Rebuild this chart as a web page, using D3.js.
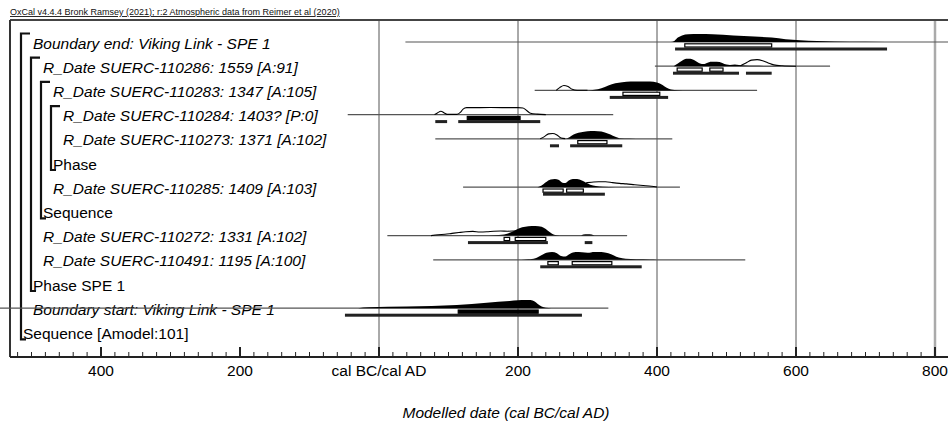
<!DOCTYPE html>
<html><head><meta charset="utf-8">
<script src="https://cdn.jsdelivr.net/npm/d3@7"></script>
<style>
html,body{margin:0;padding:0;background:#fff;}
svg{display:block;font-family:"Liberation Sans",Arial,sans-serif;}
</style></head>
<body><svg id="c" width="948" height="421"></svg>
<script>
// ---------- data ----------
const title = "OxCal v4.4.4 Bronk Ramsey (2021); r:2 Atmospheric data from Reimer et al (2020)";
const axisTitle = "Modelled date (cal BC/cal AD)";
const labels = [
  "Boundary end: Viking Link - SPE 1",
  "R_Date SUERC-110286: 1559 [A:91]",
  "R_Date SUERC-110283: 1347 [A:105]",
  "R_Date SUERC-110284: 1403? [P:0]",
  "R_Date SUERC-110273: 1371 [A:102]",
  "Phase",
  "R_Date SUERC-110285: 1409 [A:103]",
  "Sequence",
  "R_Date SUERC-110272: 1331 [A:102]",
  "R_Date SUERC-110491: 1195 [A:100]",
  "Phase SPE 1",
  "Boundary start: Viking Link - SPE 1",
  "Sequence [Amodel:101]"
];
// nesting level of each row (items), closing rows use their group's level
const levels = [1,2,3,4,4,4,3,3,2,2,2,1,1];
const isClosing = [false,false,false,false,false,true,false,true,false,false,true,false,true];
// groups: [openRow, closeRow, level]
const groupOpen  = [0,1,2,3];
const groupClose = [12,10,7,5];
const groupLevel = [1,2,3,4];

const tickYears  = [-400,-200,0,200,400,600,800];
const tickLabels = ["400","200","cal BC/cal AD","200","400","600","800"];
const gridYears  = [0,200,400,600,800];

// thin range lines (years)
const spans = [[38,850],[397,649],[224,544],[-45,337],[81,422],null,[121,433],null,[12,357],[78,527],null,[-560,330],null];

// posterior (filled) distributions: [year, relative height]
const post0 = [[420,0],[425,0.1],[430,0.4],[436,0.6],[445,0.7],[460,0.73],[480,0.7],[510,0.6],[540,0.5],[565,0.4],[585,0.25],[606,0.15],[630,0.08],[655,0.05],[700,0.02],[760,0]];
const post1 = [[424,0],[430,0.25],[436,0.5],[442,0.68],[448,0.68],[455,0.5],[462,0.25],[467,0.2],[472,0.3],[478,0.4],[486,0.4],[494,0.3],[500,0.15],[505,0.12],[512,0.15],[518,0.1],[525,0.06],[540,0.04],[560,0.02],[580,0]];
const post2 = [[300,0],[310,0.05],[320,0.2],[330,0.45],[340,0.65],[350,0.75],[362,0.8],[375,0.82],[390,0.8],[400,0.72],[408,0.5],[414,0.25],[420,0.08],[430,0.02],[445,0]];
const post4 = [[268,0],[274,0.15],[280,0.4],[287,0.55],[295,0.65],[305,0.7],[315,0.68],[325,0.58],[333,0.4],[340,0.18],[346,0.06],[360,0.02],[380,0]];
const post6 = [[228,0],[234,0.15],[240,0.45],[247,0.7],[253,0.75],[259,0.65],[264,0.4],[268,0.38],[273,0.6],[279,0.75],[285,0.75],[292,0.6],[298,0.4],[304,0.22],[312,0.1],[322,0.04],[340,0]];
const post8 = [[150,0],[165,0.03],[180,0.1],[190,0.3],[198,0.55],[206,0.75],[215,0.85],[225,0.88],[234,0.8],[240,0.6],[246,0.3],[252,0.08],[260,0.02],[275,0],[290,0],[294,0.1],[300,0.13],[306,0.1],[310,0]];
const post9 = [[205,0],[215,0.05],[225,0.15],[233,0.4],[241,0.65],[249,0.72],[256,0.6],[262,0.35],[268,0.3],[275,0.55],[283,0.7],[292,0.68],[300,0.65],[310,0.72],[320,0.72],[330,0.6],[338,0.4],[345,0.2],[355,0.1],[370,0.05],[390,0.03],[400,0.01],[410,0]];
const post11 = [[-30,0],[-15,0.08],[40,0.15],[112,0.3],[155,0.5],[188,0.65],[200,0.72],[210,0.75],[218,0.74],[224,0.6],[228,0.4],[234,0.15],[240,0.05],[248,0]];
const posteriors = [post0,post1,post2,null,post4,null,post6,null,post8,post9,null,post11,null];

// prior (outline) distributions, visible parts
const prior1 = [[520,0.05],[528,0.3],[536,0.55],[544,0.6],[552,0.5],[560,0.3],[568,0.12],[580,0.04],[600,0]];
const prior2 = [[255,0],[260,0.25],[266,0.45],[272,0.35],[278,0.1],[285,0.02],[300,0.02]];
const prior3 = [[80,0],[84,0.15],[89,0.3],[94,0.15],[98,0.02],[112,0.02],[117,0.2],[121,0.5],[126,0.63],[160,0.64],[200,0.63],[207,0.6],[212,0.4],[218,0.12],[228,0.04],[240,0]];
const prior4 = [[232,0],[238,0.2],[244,0.45],[250,0.48],[256,0.35],[262,0.08],[268,0.02]];
const prior6 = [[298,0.4],[306,0.45],[316,0.5],[326,0.5],[336,0.42],[346,0.35],[356,0.3],[368,0.22],[380,0.15],[392,0.08],[400,0.02]];
const prior8 = [[75,0],[85,0.08],[95,0.12],[105,0.2],[115,0.28],[125,0.35],[135,0.38],[145,0.33],[155,0.35],[165,0.4],[175,0.42],[185,0.4],[195,0.42],[205,0.45]];
const priors = [null,prior1,prior2,prior3,prior4,null,prior6,null,prior8,null,null,null,null];

// highest posterior density ranges
const r68 = [[[440,565]],[[429,465],[476,495]],[[351,404]],[[127,203]],[[286,328]],null,[[236,265],[270,294]],null,[[180,188],[196,240]],[[243,258],[278,335]],null,[[114,229]],null];
const r95 = [[[426,731]],[[423,518],[528,565]],[[332,416]],[[81,98],[114,232]],[[246,259],[275,350]],null,[[236,325]],null,[[128,243],[296,307]],[[232,378]],null,[[-49,292]],null];
const solid68Rows = [3,11];

// ---------- drawing ----------
const svg = d3.select("#c");
const W = 948, H = 421;
const frameL = 10, frameT = 20, axisY = 357;
const x = d3.scaleLinear().domain([-400,800]).range([101,935]);
const row = d3.scaleLinear().domain([0,12]).range([42,332.4]);
const h = d3.scaleLinear().domain([0,1]).range([0,11]);
const FS = 15.5;

// title
svg.append("text").attr("x",10).attr("y",15).attr("font-size",9)
  .attr("text-decoration","underline").attr("fill","#111").text(title);

// gridlines
svg.selectAll("line.grid").data(gridYears).join("line")
  .attr("x1",d=>x(d)).attr("x2",d=>x(d)).attr("y1",frameT).attr("y2",axisY)
  .attr("stroke",d=>d===800?"#aaa":"#555").attr("stroke-width",d=>d===800?2.5:1);

// frame
svg.append("line").attr("x1",frameL).attr("x2",W).attr("y1",frameT).attr("y2",frameT).attr("stroke","#444").attr("stroke-width",2);
svg.append("line").attr("x1",frameL).attr("x2",frameL).attr("y1",frameT).attr("y2",axisY).attr("stroke","#333").attr("stroke-width",2);

// labels
const bx = l => 11 + 10*l;
svg.selectAll("text.lab").data(labels).join("text")
  .attr("x",(d,i)=> isClosing[i] ? bx(levels[i]) + 2 : bx(levels[i]) + 12)
  .attr("y",(d,i)=>row(i)+6.5)
  .attr("font-size",FS)
  .attr("font-style",(d,i)=>isClosing[i]?"normal":"italic")
  .attr("fill","#000").text(d=>d);

// brackets
groupOpen.forEach((o,k)=>{
  const xb = bx(groupLevel[k]);
  const y0 = row(o)-8.5, y1 = row(groupClose[k])+7;
  svg.append("path").attr("d",`M${xb+9},${y0}H${xb}V${y1}H${xb+5}`)
    .attr("fill","none").attr("stroke","#111").attr("stroke-width",2.2);
});

// thin lines
spans.forEach((s,i)=>{
  if(!s) return;
  svg.append("line").attr("x1",x(s[0])).attr("x2",x(s[1])).attr("y1",row(i)).attr("y2",row(i))
    .attr("stroke","#555").attr("stroke-width",1.2);
});

// priors (outline)
priors.forEach((p,i)=>{
  if(!p) return;
  const ln = d3.line().x(d=>x(d[0])).y(d=>row(i)-h(d[1])).curve(d3.curveMonotoneX);
  svg.append("path").attr("d",ln(p)).attr("fill","none").attr("stroke","#000").attr("stroke-width",1.1);
});
// posteriors (filled)
posteriors.forEach((p,i)=>{
  if(!p) return;
  const ar = d3.area().x(d=>x(d[0])).y0(row(i)).y1(d=>row(i)-h(d[1])).curve(d3.curveMonotoneX);
  svg.append("path").attr("d",ar(p)).attr("fill","#000");
});
// ranges
r95.forEach((rs,i)=>{
  if(!rs) return;
  rs.forEach(r=>svg.append("rect").attr("x",x(r[0])).attr("width",x(r[1])-x(r[0]))
    .attr("y",row(i)+5.5).attr("height",3).attr("fill","#222"));
});
r68.forEach((rs,i)=>{
  if(!rs) return;
  const solid = solid68Rows.includes(i);
  rs.forEach(r=>svg.append("rect").attr("x",x(r[0])).attr("width",x(r[1])-x(r[0]))
    .attr("y",row(i)+1.8).attr("height",3.2)
    .attr("fill",solid?"#000":"#fff").attr("stroke","#000").attr("stroke-width",1.2));
});

// axis
const minor = d3.range(-520, 821, 20);
svg.selectAll("line.minor").data(minor).join("line")
  .attr("x1",d=>x(d)).attr("x2",d=>x(d)).attr("y1",axisY).attr("y2",d=>d%200===0?axisY-10:axisY-5)
  .attr("stroke","#222").attr("stroke-width",d=>d%200===0?2:1);
svg.append("line").attr("x1",frameL).attr("x2",W).attr("y1",axisY).attr("y2",axisY).attr("stroke","#222").attr("stroke-width",2);
svg.selectAll("text.tick").data(tickYears).join("text")
  .attr("x",d=>x(d)).attr("y",375.5).attr("text-anchor","middle").attr("font-size",FS)
  .attr("fill","#000").text((d,i)=>tickLabels[i]);
svg.append("text").attr("x",506).attr("y",418).attr("text-anchor","middle")
  .attr("font-size",FS).attr("font-style","italic").attr("fill","#000").text(axisTitle);
</script></body></html>
